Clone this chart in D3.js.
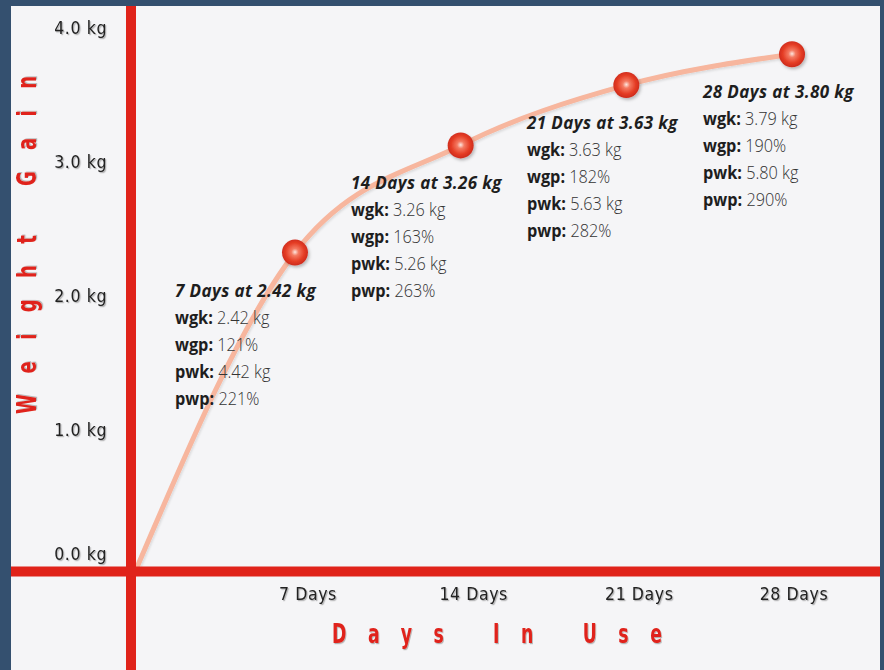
<!DOCTYPE html>
<html><head><meta charset="utf-8">
<script src="https://cdn.jsdelivr.net/npm/d3@7"></script>
<style>body{margin:0;background:#fff}svg{display:block}</style>
</head><body><svg id="c" width="884" height="670"></svg>
<script>
// ---- data ----
const days = [7, 14, 21, 28];
const dayLabels = ["7 Days", "14 Days", "21 Days", "28 Days"];
const curveKg = [2.32, 3.12, 3.57, 3.80];      // plotted positions of the points
const titleKg = ["2.42", "3.26", "3.63", "3.80"];
const wgk = ["2.42", "3.26", "3.63", "3.79"];
const wgp = ["121", "163", "182", "190"];
const pwk = ["4.42", "5.26", "5.63", "5.80"];
const pwp = ["221", "263", "282", "290"];
const yTicks = [0, 1, 2, 3, 4];
const startDay = 0.25, startKg = -0.06;         // curve start at the axes corner

// ---- setup ----
const W = 884, H = 670;
const svg = d3.select("#c");
const defs = svg.append("defs");
const sh = defs.append("filter").attr("id", "ts").attr("x", "-20%").attr("y", "-20%").attr("width", "140%").attr("height", "160%");
sh.append("feDropShadow").attr("dx", 1.2).attr("dy", 1.2).attr("stdDeviation", 0.7).attr("flood-color", "#000").attr("flood-opacity", 0.28);
const ps = defs.append("filter").attr("id", "ps").attr("x", "-50%").attr("y", "-50%").attr("width", "200%").attr("height", "200%");
ps.append("feDropShadow").attr("dx", 1.5).attr("dy", 2).attr("stdDeviation", 1.5).attr("flood-color", "#000").attr("flood-opacity", 0.25);
const ls = defs.append("filter").attr("id", "ls").attr("x", "-10%").attr("y", "-10%").attr("width", "120%").attr("height", "120%");
ls.append("feDropShadow").attr("dx", 1).attr("dy", 1.5).attr("stdDeviation", 1).attr("flood-color", "#000").attr("flood-opacity", 0.12);
const rg = defs.append("radialGradient").attr("id", "ball").attr("cx", "50%").attr("cy", "48%").attr("r", "55%");
rg.append("stop").attr("offset", "0%").attr("stop-color", "#fde7e0");
rg.append("stop").attr("offset", "25%").attr("stop-color", "#f47a62");
rg.append("stop").attr("offset", "65%").attr("stop-color", "#e53d25");
rg.append("stop").attr("offset", "100%").attr("stop-color", "#c8261a");

// frame + background
svg.append("rect").attr("width", W).attr("height", H).attr("fill", "#34506f");
svg.append("rect").attr("x", 11).attr("y", 6).attr("width", 869).attr("height", H - 6).attr("fill", "#f5f5f7");

const x = d3.scaleLinear([0, 28], [129.3, 792]);
const y = d3.scaleLinear([0, 4], [563.5, 27.5]);
const lx = d3.scaleLinear([7, 28], [175, 703]);
const axisY = 571.5, axisX = 131;

// curve
const pts = [{d: startDay, v: startKg}].concat(days.map((d, i) => ({d, v: curveKg[i]})));
const line = d3.line().x(p => x(p.d)).y(p => y(p.v)).curve(d3.curveMonotoneX);
svg.append("path").attr("d", line(pts)).attr("fill", "none")
  .attr("stroke", "#f7b69e").attr("stroke-width", 5).attr("stroke-linecap", "round").attr("filter", "url(#ls)");

// axes
const red = "#e0231a";
svg.append("line").attr("x1", axisX).attr("x2", axisX).attr("y1", 6).attr("y2", H)
  .attr("stroke", red).attr("stroke-width", 10);
svg.append("line").attr("x1", 11).attr("x2", 880).attr("y1", axisY).attr("y2", axisY)
  .attr("stroke", red).attr("stroke-width", 10);

// points
svg.append("g").selectAll("circle").data(days).join("circle")
  .attr("cx", d => x(d)).attr("cy", (d, i) => y(curveKg[i])).attr("r", 13)
  .attr("fill", "url(#ball)").attr("filter", "url(#ps)");

const condensed = "'Liberation Sans Narrow','DejaVu Sans Condensed','Noto Sans',sans-serif";

// y tick labels
svg.append("g").selectAll("text").data(yTicks).join("text")
  .attr("x", 107).attr("y", v => Math.min(y(v), axisY - 18)).attr("dy", "0.36em")
  .attr("text-anchor", "end").attr("font-family", condensed).attr("font-size", 17.5)
  .attr("letter-spacing", 0.6).attr("fill", "#222").attr("filter", "url(#ts)")
  .text(v => v.toFixed(1) + " kg");

// x tick labels
svg.append("g").selectAll("text").data(days).join("text")
  .attr("x", d => Math.min(x(d) + 13, 794)).attr("y", 600)
  .attr("text-anchor", "middle").attr("font-family", condensed).attr("font-size", 17.5)
  .attr("letter-spacing", 0.6).attr("fill", "#222").attr("filter", "url(#ts)")
  .text((d, i) => dayLabels[i]);

// axis titles (narrow, tall letters)
const sx = 0.74;
svg.append("text").attr("transform", `translate(36,414) rotate(-90) scale(${sx},1)`)
  .attr("font-family", condensed).attr("font-weight", "bold").attr("font-size", 27)
  .attr("fill", red).attr("filter", "url(#ts)")
  .attr("textLength", 338 / sx).attr("lengthAdjust", "spacing").text("Weight Gain");
svg.append("text").attr("transform", `translate(332,643) scale(${sx},1)`)
  .attr("font-family", condensed).attr("font-weight", "bold").attr("font-size", 26)
  .attr("fill", red).attr("filter", "url(#ts)")
  .attr("textLength", 330 / sx).attr("lengthAdjust", "spacing").text("Days In Use");

// annotations
const ann = svg.append("g").selectAll("g").data(days).join("g")
  .attr("transform", (d, i) => `translate(${lx(d)},${y(curveKg[i]) + 44})`);
ann.append("text").attr("font-family", "'Open Sans',sans-serif").attr("font-style", "italic")
  .attr("font-weight", 700).attr("font-size", 17).attr("letter-spacing", 0.4).attr("fill", "#1e1e1e")
  .text((d, i) => `${d} Days at ${titleKg[i]} kg`);
const rowsG = ann.append("g").attr("transform", "scale(0.88,1)");
const rows = [["wgk:", wgk, " kg"], ["wgp:", wgp, "%"], ["pwk:", pwk, " kg"], ["pwp:", pwp, "%"]];
rows.forEach((r, k) => {
  const t = rowsG.append("text").attr("y", 27 * (k + 1)).attr("font-family", "'Open Sans',sans-serif")
    .attr("font-size", 18.5).attr("fill", "#1e1e1e");
  t.append("tspan").attr("font-weight", 700).text(r[0]);
  t.append("tspan").attr("font-weight", 300).attr("fill", "#333").text((d, i) => " " + r[1][i] + r[2]);
});
</script></body></html>
